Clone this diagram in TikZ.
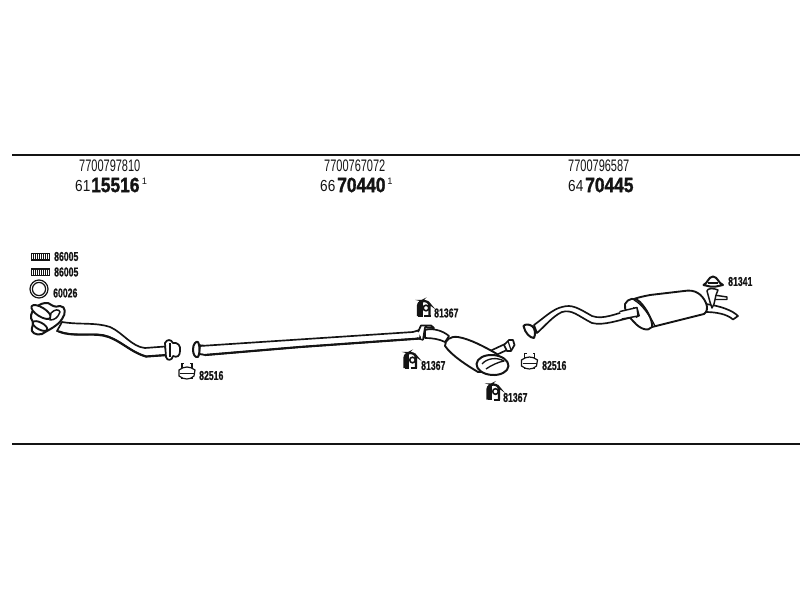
\documentclass[tikz,border=0pt]{standalone}
\usepackage{fontspec}
\setmainfont{Liberation Sans}
\newfontfamily\heavyfont[FakeBold=1.6]{Liberation Sans Bold}
\newfontfamily\codefont[FakeBold=0.8]{Liberation Sans Bold}
\definecolor{ink}{HTML}{141414}
\tikzset{
  every picture/.style={x=0.75pt,y=-0.75pt},
  rule/.style={draw=ink,line width=1.7pt},
  pipe/.style={draw=ink,line width=1.25pt,fill=white,line join=round,line cap=round},
  thin part/.style={draw=ink,line width=0.9pt,fill=white,line join=round},
  txt/.style={inner sep=0pt,anchor=west,text=ink},
  partno/.style={txt,font=\fontsize{12.5pt}{12pt}\selectfont,xscale=.66},
  small/.style={txt,font=\fontsize{12pt}{12pt}\selectfont,xscale=.85},
  big/.style={txt,font=\fontsize{15.5pt}{15pt}\heavyfont,xscale=.84},
  sup1/.style={txt,font=\fontsize{7pt}{7pt}\selectfont},
  code/.style={txt,font=\fontsize{9.6pt}{9pt}\codefont,xscale=.68},
  clampicon/.pic={
    \draw[ink,line width=.9pt] (-5,-9) -- (-5,7) (5,-9) -- (5,7);
    \draw[ink,line width=.9pt,fill=white] (-8,-2) .. controls (-3,-6) and (3,-6) .. (8,-2) -- (7,4) .. controls (3,8) and (-3,8) .. (-8,4) -- cycle;
    \draw[ink,line width=.7pt] (-7,1) -- (7,1);
    \draw[ink,line width=.7pt] (-5,-9) -- (-3,-9) (5,-9) -- (3,-9);
  },
  bushicon/.pic={
    \draw[ink,line width=1.7pt,fill=white,rounded corners=2pt] (-6,7) -- (-6,-6) -- (-2,-8) -- (3,-8) -- (5.5,-5) -- (5.5,7);
    \fill[ink] (-6,-7) rectangle (-1.5,7.5);
    \draw[ink,line width=1.2pt,fill=white] (2,-1) circle (2.8);
    \draw[ink,line width=1.5pt] (0,7) -- (6.5,7);
  },
  gasketicon/.pic={
    \fill[ink] (-9.5,-4) rectangle (9.5,4);
    \foreach \k in {-8,-6,...,8} {\draw[white,line width=.45pt] (\k,-2.5) -- (\k,2.5);}
  }
}
\begin{document}
\begin{tikzpicture}
\useasboundingbox (0,0) rectangle (800,600);
\fill[white] (0,0) rectangle (800,600);
% rules
\coordinate (ruleTopL) at (12,155); \coordinate (ruleTopR) at (800,155);
\coordinate (ruleBotL) at (12,444); \coordinate (ruleBotR) at (800,444);
\draw[rule] (ruleTopL) -- (ruleTopR);
\draw[rule] (ruleBotL) -- (ruleBotR);
% headers
\node[partno] (pa) at (79,166) {7700797810};
\node[small] (pb) at (75,186) {61};
\node[big] (pc) at (91,185) {15516};
\node[sup1] (pd) at (141.5,181.5) {1};
\node[partno] (qa) at (324,166) {7700767072};
\node[small] (qb) at (320,186) {66};
\node[big] (qc) at (337,185) {70440};
\node[sup1] (qd) at (387,181.5) {1};
\node[partno] (ra) at (568,166) {7700796587};
\node[small] (rb) at (568,186) {64};
\node[big] (rc) at (585,185) {70445};
% front pipe
\draw[pipe] (62,322) .. controls (80,325) and (95,322) .. (110,327)
  .. controls (122,332) and (132,347) .. (145,348) -- (165,346.5)
  -- (167,355) -- (146,356.5) .. controls (130,352) and (118,338) .. (103,335)
  .. controls (90,333) and (72,337) .. (57,331) -- cycle;
\draw[ink,line width=1.6pt,line cap=round] (59,331.5) .. controls (72,337) and (90,333) .. (103,335.5) .. controls (118,338) and (130,352) .. (146,356.5) -- (167,355);
\draw[thin part,line width=1.3pt] (165,343) .. controls (167,339) and (171,339) .. (173,343)
  .. controls (178,342) and (181,346) .. (180,351) .. controls (180,356) and (177,358) .. (173,356)
  .. controls (172,361) and (167,361) .. (166,357) -- cycle;
\draw[ink,line width=1pt] (170,343) -- (170,357);
% manifold flange
\draw[thin part,line width=1.5pt] (31,318) .. controls (30,310) and (40,302) .. (48,303)
  .. controls (52,305) and (54,308) .. (60,306) .. controls (66,306) and (66,314) .. (62,319)
  .. controls (58,326) and (48,330) .. (42,334) .. controls (36,336) and (30,332) .. (32,328)
  .. controls (33,325) and (34,323) .. (31,318) -- cycle;
\draw[thin part,line width=1.4pt,rotate around={-32:(41,312)}] (41,312) ellipse (11 and 4.5);
\draw[thin part,line width=1.4pt,rotate around={-28:(40,326)}] (40,326) ellipse (8 and 3.5);
\draw[thin part,line width=1.1pt] (51,313) .. controls (55,309) and (59,309) .. (60,312) .. controls (58,318) and (54,320) .. (50,320) -- cycle;
% center pipe
\draw[pipe] (200,346) -- (413,332) -- (421,329.5) -- (420,338.5) -- (300,347) -- (205,355) -- (199,354) -- cycle;
\draw[ink,line width=1.6pt] (205,355) -- (300,347) -- (420,338.5);
\draw[thin part,line width=1.5pt] (193,349.5) .. controls (193,344) and (196,341) .. (198,342)
  .. controls (200,344) and (200,355) .. (198,357) .. controls (195,358) and (193,354) .. (193,349.5) -- cycle;
\draw[ink,line width=.9pt] (200,345) -- (204,345.5) (200,354) -- (204,354.5);
% pipe into silencer
\draw[pipe] (425,330) .. controls (432,328) and (442,330) .. (449,336) -- (445,342) .. controls (439,339) and (432,338) .. (425,338) -- cycle;
% clamp
\draw[thin part,line width=1.3pt] (418,332) -- (421,325.5) -- (431,325.5) -- (434,328) -- (425,327.5) -- (423,340);
\draw[ink,line width=1.1pt] (417,338) -- (423,340);
% outlet stub (behind)
\draw[pipe] (490,351) -- (505,344) -- (509,349) -- (494,356) -- cycle;
\draw[thin part,line width=1.3pt] (504,345) -- (509,340) -- (513,340) -- (514.5,345) -- (511,351) -- (507,351) -- cycle;
\draw[ink,line width=.9pt] (508,341) -- (511,350);
% silencer
\draw[pipe,line width=1.4pt] (445,346) .. controls (445,340) and (450,336) .. (458,337)
  .. controls (470,339) and (485,347) .. (497,354) -- (490,372) -- (478,372)
  .. controls (468,366) and (452,356) .. (445,346) -- cycle;
\draw[pipe,line width=1.5pt,rotate around={-4:(492.5,365)}] (492.5,365) ellipse (16 and 10);
\draw[thin part,line width=1pt] (482,364) .. controls (487,358) and (497,357) .. (504,361) .. controls (498,362) and (490,366) .. (486,369);
% rear pipe
\draw[pipe] (534,325) .. controls (545,317) and (553,309) .. (562,307)
  .. controls (572,304) and (578,308) .. (592,316)
  .. controls (603,320) and (615,314) .. (636,308) -- (638,316)
  .. controls (618,320) and (604,326) .. (592,323)
  .. controls (578,316) and (572,309) .. (562,312)
  .. controls (553,316) and (545,326) .. (537,333) -- cycle;
\draw[thin part,line width=1.5pt] (523.5,326) .. controls (525,324) and (529,324) .. (532,326)
  .. controls (535,328) and (536,334) .. (534,338) .. controls (530,338) and (525,333) .. (523.5,326) -- cycle;
% tail pipe (behind muffler)
\draw[pipe] (706,304) .. controls (720,306) and (732,310) .. (738,316) -- (733,319.5)
  .. controls (727,314) and (716,312) .. (705,312) -- cycle;
\draw[pipe,line width=1.1pt] (714,295) -- (727,297) -- (727,299.5) -- (712,299.5) -- cycle;
% muffler
\draw[pipe,line width=1.4pt] (626,304) .. controls (630,299) and (640,297) .. (650,295)
  -- (684,291) .. controls (695,289) and (702,294) .. (706,303)
  .. controls (708,308) and (707,312) .. (704,314) -- (652,327) -- (636,322) -- cycle;
\draw[pipe,line width=1.4pt] (625,304) .. controls (628,298) and (635,297) .. (640,302)
  .. controls (646,308) and (653,320) .. (652,327) .. controls (648,332) and (640,329) .. (634,322)
  .. controls (628,316) and (624,310) .. (625,304) -- cycle;
\draw[ink,line width=1pt] (634,300) .. controls (642,304) and (650,316) .. (655,326);
\fill[ink] (633,307) -- (638,309) -- (640,316) -- (636,318) -- cycle;
\draw[pipe,line width=1.1pt] (620,311.5) -- (637,307.5) -- (638,316) -- (622,319);
% hanger
\draw[thin part,line width=1.1pt] (707,291) .. controls (707,288) and (714,288) .. (718,290) -- (716,295) -- (714,304) -- (712,308) -- (710,302) -- cycle;
% icons
\pic at (40.5,256.5) {gasketicon};
\pic at (40.5,272) {gasketicon};
\node[code] (n1) at (54,256.5) {86005};
\node[code] (n2) at (54,272) {86005};
\coordinate (ringc) at (39,289);
\draw[ink,line width=.9pt] (ringc) circle (9);
\draw[ink,line width=.9pt] (ringc) circle (6.6);
\node[code] (n3) at (53,293) {60026};
\pic at (187,372) {clampicon};
\node[code] (n4) at (199,375.5) {82516};
\pic at (424,309) {bushicon};
\node[code] (n5) at (434,313) {81367};
\pic at (410.5,361) {bushicon};
\node[code] (n6) at (421,365.5) {81367};
\pic at (493.5,392.5) {bushicon};
\node[code] (n7) at (503,397.5) {81367};
\pic at (529.5,362) {clampicon};
\node[code] (n8) at (542,365.5) {82516};
% 81341 rubber
\draw[thin part,line width=1.5pt] (703.5,285) .. controls (708,283) and (708,277) .. (713,276.5)
  .. controls (718,277) and (718,283) .. (723,285) -- (716,286.5) -- (710,286.5) -- cycle;
\draw[ink,line width=.9pt] (708,283) -- (718,283);
\node[code] (n9) at (728,281.5) {81341};
\end{tikzpicture}
\end{document}
